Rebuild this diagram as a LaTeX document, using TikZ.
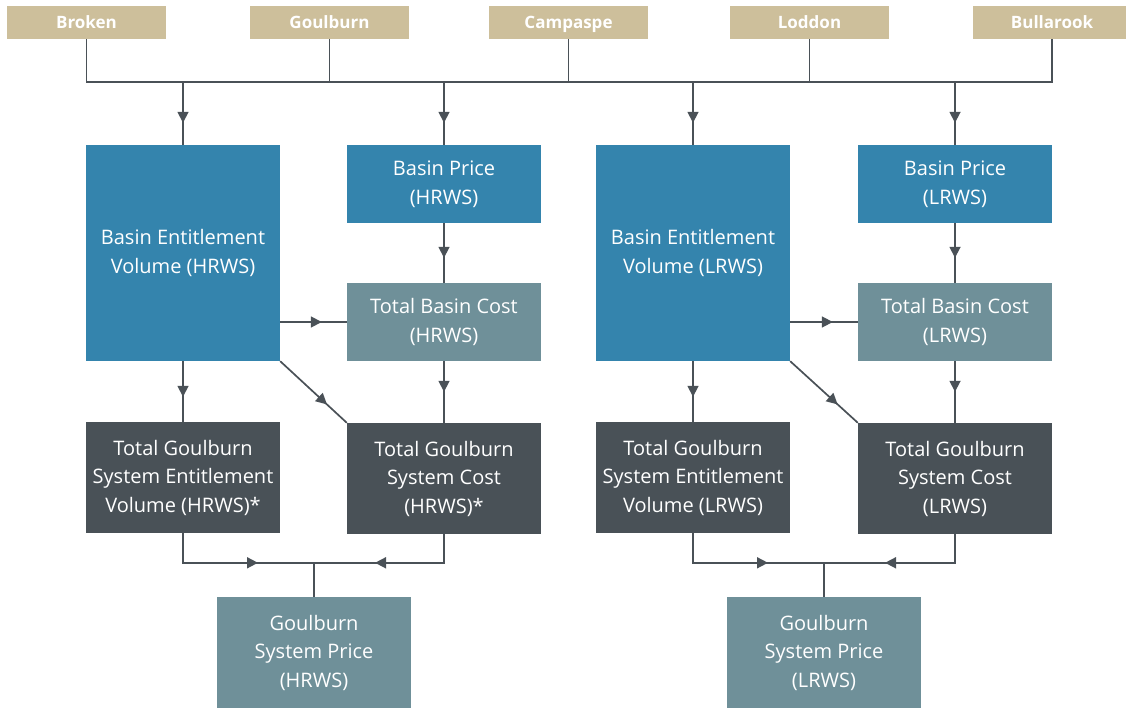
\documentclass[tikz,border=0pt]{standalone}
\usepackage{fontspec}
\setmainfont{Open Sans}
\usetikzlibrary{arrows.meta,decorations.markings,calc}

\definecolor{riverTan}{HTML}{CDBF9B}
\definecolor{basinBlue}{HTML}{3484AD}
\definecolor{costTeal}{HTML}{6F9099}
\definecolor{systemDark}{HTML}{495157}
\definecolor{linkGrey}{HTML}{4A5157}

\begin{document}
\begin{tikzpicture}[x=1pt, y=-1pt,
  river/.style={fill=riverTan, text=white, font=\fontsize{17}{20}\selectfont\bfseries,
    minimum width=159pt, minimum height=33pt, inner sep=0pt,
    text height=12pt, text depth=0pt},
  box/.style={text=white, font=\fontsize{20}{28.5}\selectfont, align=center,
    minimum width=194pt, inner sep=0pt},
  basin/.style={box, fill=basinBlue},
  cost/.style={box, fill=costTeal},
  system/.style={box, fill=systemDark},
  link/.style={draw=linkGrey, line width=1.7pt},
  arrowat/.style={postaction={decorate}, decoration={markings,
    mark=at position #1 with {\arrow{Triangle[length=11pt,width=11pt]}}}}
]
\useasboundingbox (0,0) rectangle (1126,708);

% rivers
\node[river] (broken)    at (86.5,22.5)  {Broken};
\node[river] (goulburn)  at (329.5,22.5) {Goulburn};
\node[river] (campaspe)  at (568.5,22.5) {Campaspe};
\node[river] (loddon)    at (809.5,22.5) {Loddon};
\node[river] (bullarook) at (1052,22.5)  {Bullarook};

% HRWS
\node[basin, minimum height=216pt] (bevH) at (183,253) {Basin Entitlement\\Volume (HRWS)};
\node[basin, minimum height=78pt]  (bpH)  at (444,184) {Basin Price\\(HRWS)};
\node[cost, minimum height=78pt]   (tbcH) at (444,322) {Total Basin Cost\\(HRWS)};
\node[system, minimum height=111pt] (tgsevH) at (183,477.5) {Total Goulburn\\System Entitlement\\Volume (HRWS)*};
\node[system, minimum height=111pt] (tgscH)  at (444,478.5) {Total Goulburn\\System Cost\\(HRWS)*};
\node[cost, minimum height=111pt]  (gspH) at (314,652.5) {Goulburn\\System Price\\(HRWS)};

% LRWS
\node[basin, minimum height=216pt] (bevL) at (693,253) {Basin Entitlement\\Volume (LRWS)};
\node[basin, minimum height=78pt]  (bpL)  at (955,184) {Basin Price\\(LRWS)};
\node[cost, minimum height=78pt]   (tbcL) at (955,322) {Total Basin Cost\\(LRWS)};
\node[system, minimum height=111pt] (tgsevL) at (693,477.5) {Total Goulburn\\System Entitlement\\Volume (LRWS)};
\node[system, minimum height=111pt] (tgscL)  at (955,478.5) {Total Goulburn\\System Cost\\(LRWS)};
\node[cost, minimum height=111pt]  (gspL) at (824,652.5) {Goulburn\\System Price\\(LRWS)};

% river bus
\coordinate (busL) at (86.5,82);
\coordinate (busR) at (1052,82);
\draw[link] (broken.south) -- (busL) -- (busR) -- (bullarook.south);
\foreach \r in {goulburn,campaspe,loddon}
  \draw[link] (\r.south) -- (\r.south |- busL);
\foreach \b in {bevH,bpH,bevL,bpL}
  \draw[link, arrowat=-22pt] (\b.north |- busL) -- (\b.north);

% inside each group
\foreach \s in {H,L} {
  \draw[link, arrowat=-25pt] (bev\s.east |- tbc\s.west) -- (tbc\s.west);
  \draw[link, arrowat=-27pt] (bev\s.south east) -- (tgsc\s.north west);
  \draw[link, arrowat=-25pt] (bp\s) -- (tbc\s);
  \draw[link, arrowat=-31pt] (tbc\s) -- (tgsc\s);
  \draw[link, arrowat=-25pt] (bev\s) -- (tgsev\s);
  \coordinate (join\s) at ($(gsp\s.north)+(0,-34)$);
  \draw[link, arrowat=-56pt] (tgsev\s.south) |- (join\s);
  \draw[link, arrowat=-61pt] (tgsc\s.south) |- (join\s);
  \draw[link] (join\s) -- (gsp\s.north);
}
\end{tikzpicture}
\end{document}
